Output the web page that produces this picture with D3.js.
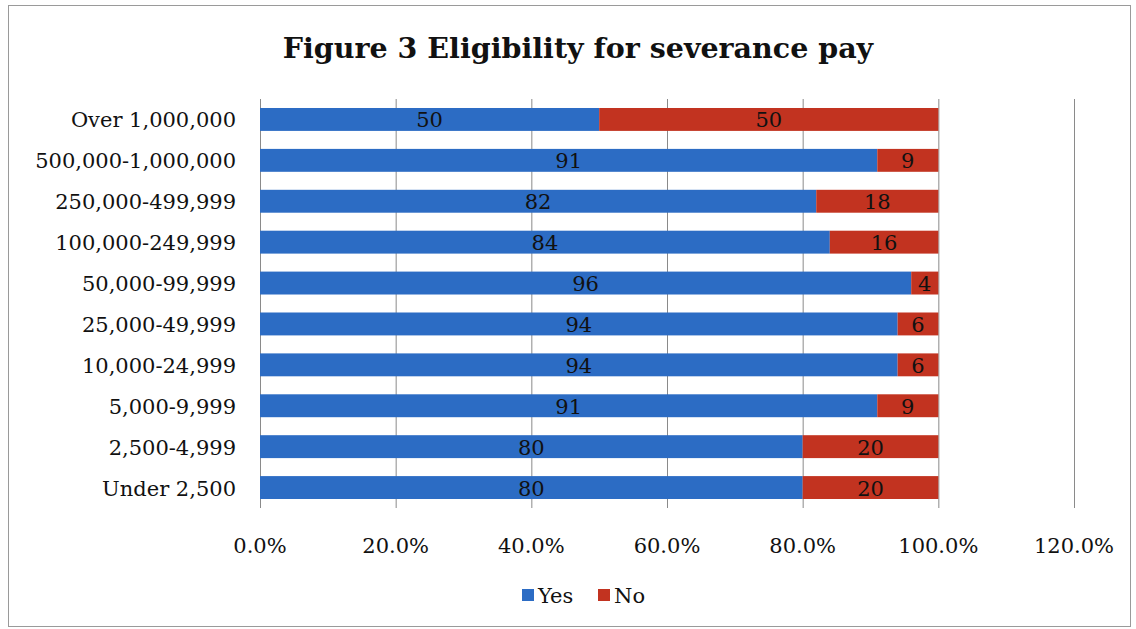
<!DOCTYPE html>
<html>
<head>
<meta charset="utf-8">
<script src="https://cdn.jsdelivr.net/npm/d3@7"></script>
<style>
  html, body { margin: 0; padding: 0; background: #fff; }
  svg { display: block; }
</style>
</head>
<body>
<svg id="chart" width="1136" height="629"></svg>
<script>
// Firm size bands, top to bottom
const categories = [
  "Over 1,000,000",
  "500,000-1,000,000",
  "250,000-499,999",
  "100,000-249,999",
  "50,000-99,999",
  "25,000-49,999",
  "10,000-24,999",
  "5,000-9,999",
  "2,500-4,999",
  "Under 2,500"
];
const yesValues = [50, 91, 82, 84, 96, 94, 94, 91, 80, 80];
const noValues  = [50,  9, 18, 16,  4,  6,  6,  9, 20, 20];
const seriesNames = ["Yes", "No"];
const seriesColors = ["#2c6cc4", "#c23320"];
const tickValues = [0, 20, 40, 60, 80, 100, 120];

const W = 1136, H = 629;
const margin = { left: 260, right: 62, top: 99, bottom: 121 };
const serif = "'DejaVu Serif', 'Liberation Serif', serif";

const svg = d3.select("#chart");

// outer frame
svg.append("rect")
  .attr("x", 8.5).attr("y", 5.5)
  .attr("width", W - 14).attr("height", H - 8)
  .attr("fill", "none").attr("stroke", "#9a9a9a").attr("stroke-width", 1);

// title
svg.append("text")
  .attr("x", 578).attr("y", 58)
  .attr("text-anchor", "middle")
  .attr("font-family", serif)
  .attr("font-weight", "bold")
  .attr("font-size", 28.5)
  .attr("fill", "#111")
  .text("Figure 3 Eligibility for severance pay");

const x = d3.scaleLinear().domain([0, 120]).range([margin.left, W - margin.right]);
const y = d3.scaleBand().domain(categories).range([margin.top, H - margin.bottom]).paddingInner(0.44).paddingOuter(0.22);

// vertical gridlines
svg.append("g")
  .selectAll("line")
  .data(tickValues)
  .join("line")
  .attr("x1", d => x(d) + 0.5).attr("x2", d => x(d) + 0.5)
  .attr("y1", margin.top).attr("y2", H - margin.bottom)
  .attr("stroke", "#8a8a8a").attr("stroke-width", 1);

// stacked rows
const stackData = categories.map((c, i) => ({ cat: c, Yes: yesValues[i], No: noValues[i] }));
const stacked = d3.stack().keys(seriesNames)(stackData);

const layers = svg.append("g").selectAll("g")
  .data(stacked)
  .join("g")
  .attr("fill", (d, i) => seriesColors[i]);

layers.selectAll("rect")
  .data(d => d)
  .join("rect")
  .attr("x", d => x(d[0]))
  .attr("y", d => y(d.data.cat))
  .attr("width", d => x(d[1]) - x(d[0]))
  .attr("height", y.bandwidth());

// value labels centred in each segment
const labels = svg.append("g");
stacked.forEach(layer => {
  labels.selectAll(null)
    .data(layer)
    .join("text")
    .attr("x", d => (x(d[0]) + x(d[1])) / 2)
    .attr("y", d => y(d.data.cat) + y.bandwidth() / 2 + 8)
    .attr("text-anchor", "middle")
    .attr("font-family", serif)
    .attr("font-size", 21)
    .attr("fill", "#111")
    .text(d => d[1] - d[0]);
});

// category axis labels
svg.append("g")
  .selectAll("text")
  .data(categories)
  .join("text")
  .attr("x", 236)
  .attr("y", d => y(d) + y.bandwidth() / 2 + 8)
  .attr("text-anchor", "end")
  .attr("font-family", serif)
  .attr("font-size", 21)
  .attr("fill", "#111")
  .text(d => d);

// value axis tick labels
svg.append("g")
  .selectAll("text")
  .data(tickValues)
  .join("text")
  .attr("x", d => x(d))
  .attr("y", 553)
  .attr("text-anchor", "middle")
  .attr("font-family", serif)
  .attr("font-size", 21)
  .attr("fill", "#111")
  .text(d => d3.format(".1f")(d) + "%");

// legend
const legend = svg.append("g").attr("transform", "translate(522,596)");
const legendX = [0, 76];
seriesNames.forEach((name, i) => {
  const g = legend.append("g").attr("transform", `translate(${legendX[i]},0)`);
  g.append("rect").attr("x", 0).attr("y", -7).attr("width", 12).attr("height", 12).attr("fill", seriesColors[i]);
  g.append("text").attr("x", 16).attr("y", 7)
    .attr("font-family", serif).attr("font-size", 21).attr("fill", "#111")
    .text(name);
});
</script>
</body>
</html>
